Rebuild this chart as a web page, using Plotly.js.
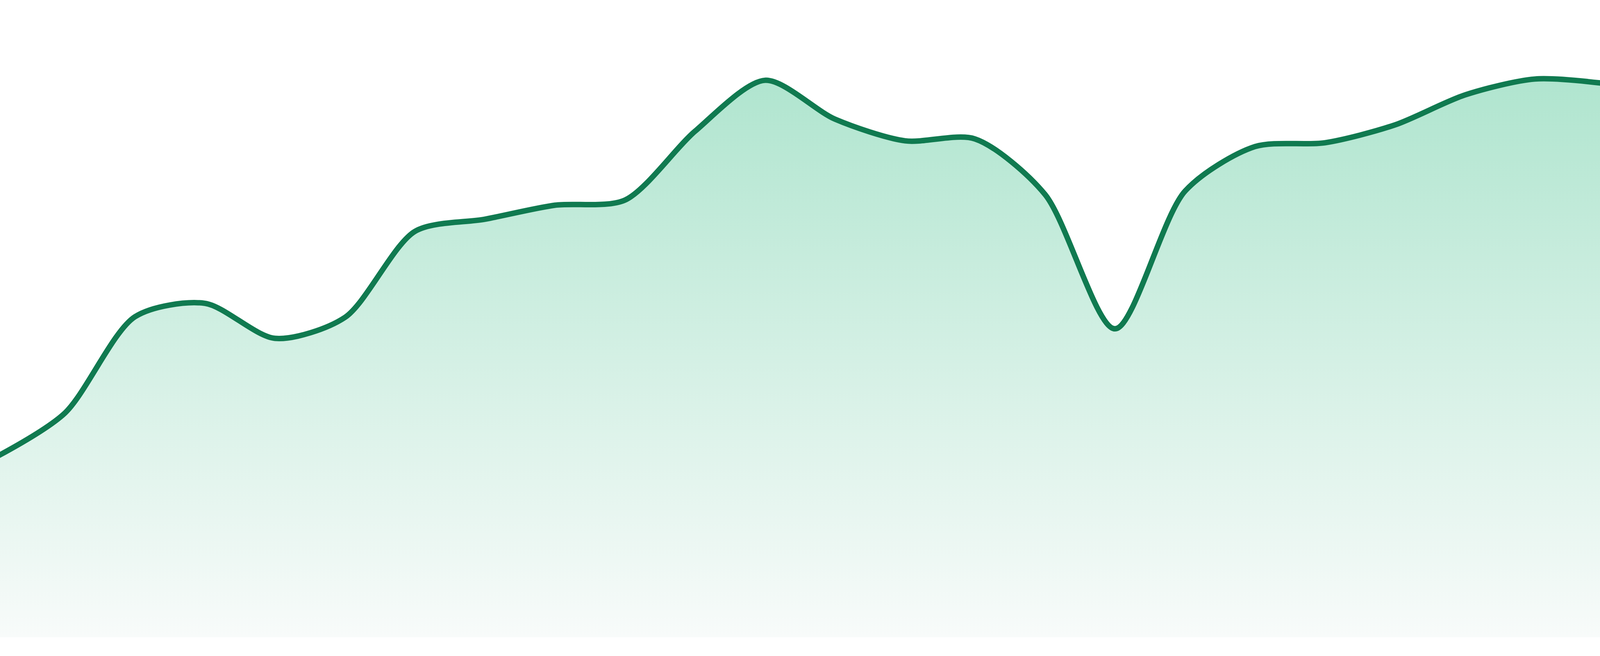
<!DOCTYPE html>
<html>
<head>
<meta charset="utf-8">
<script src="https://cdn.plot.ly/plotly-3.0.1.min.js"></script>
<style>
  html, body { margin: 0; padding: 0; background: #fff; overflow: hidden; }
  #chart { width: 100vw; height: 100vh; }
</style>
</head>
<body>
<div id="chart"></div>
<script>
const days = [1, 2, 3, 4, 5, 6, 7, 8, 9, 10, 11, 12,
              13, 14, 15, 16, 17, 18, 19, 20, 21, 22, 23, 24];
const scores = [28.2, 35.2, 50.3, 52.4, 46.9, 50.2, 63.7, 65.6, 67.8, 68.6, 79.4, 87.4,
                81.3, 77.9, 78.2, 69.5, 48.4, 70.0, 77.0, 77.6, 80.4, 85.1, 87.6, 86.9];

const lineColor = '#107a50';

var data = [
  {
    x: days,
    y: scores,
    type: 'scatter',
    mode: 'lines',
    line: { color: lineColor, width: 14, shape: 'spline', smoothing: 0.8 },
    fill: 'tozeroy',
    fillgradient: {
      type: 'vertical',
      start: 0,
      stop: 87.4,
      colorscale: [[0, 'rgb(248,251,250)'], [1, 'rgb(176,229,207)']]
    },
    hoverinfo: 'skip'
  }
];

// chart fills the window, small white strip under the area
var layout = {
  width: window.innerWidth,
  height: window.innerHeight,
  margin: { l: 0, r: 0, t: 0, b: Math.round(window.innerHeight * 48 / 1680) },
  paper_bgcolor: '#ffffff',
  plot_bgcolor: '#ffffff',
  showlegend: false,
  xaxis: { range: [1.0714, 23.929], visible: false, fixedrange: true },
  yaxis: { range: [0, 100], visible: false, fixedrange: true }
};

Plotly.newPlot('chart', data, layout, { displayModeBar: false, staticPlot: true });
</script>
</body>
</html>
